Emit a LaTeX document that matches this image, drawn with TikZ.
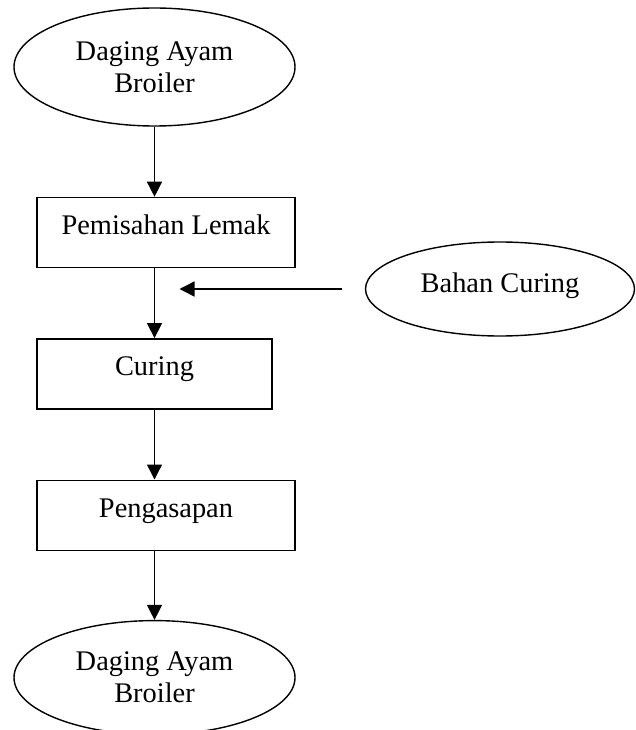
\documentclass[tikz,border=0pt]{standalone}
\usepackage{fontspec}
\setmainfont{Liberation Serif}
\usetikzlibrary{arrows.meta, positioning, calc, shapes.geometric}

\begin{document}
\begin{tikzpicture}[
  x=1pt, y=1pt,
  font=\fontsize{28.4pt}{32pt}\selectfont,
  process/.style = {draw, line width=1.4pt, minimum height=70pt, minimum width=258pt,
                    text height=19.4pt, text depth=15.4pt, inner sep=0pt, align=center},
  terminal/.style = {draw, ellipse, line width=1.4pt, minimum width=281pt, minimum height=116pt,
                     inner sep=0pt, align=center},
  arrow/.style = {line width=1.4pt, -{Triangle[length=15pt, width=15pt]}},
  node distance=70pt
]
  \useasboundingbox (0,0) rectangle (635,-730);

  % Raw material
  \node[terminal, minimum height=118pt] (top) at (154.5,-67) {Daging Ayam\\Broiler};

  % Process steps
  \node[process, below=of top, xshift=11.5pt] (pemisahan) {Pemisahan Lemak};
  \node[process, below=of pemisahan, xshift=-11.5pt, minimum width=235pt] (curing) {Curing};
  \node[process, below=of curing, xshift=11.5pt] (pengasapan) {Pengasapan};

  % Product
  \node[terminal, minimum height=114pt, below=69pt of pengasapan, xshift=-11.5pt] (product) {Daging Ayam\\Broiler};

  % Curing agent
  \node[terminal, minimum width=269pt, minimum height=94pt, text height=19.4pt, text depth=12pt] (bahan) at (500,-289) {Bahan Curing};

  % Main flow
  \draw[arrow] (top.south) -- (top.south |- pemisahan.north);
  \draw[arrow] (top.south |- pemisahan.south) -- (curing.north);
  \draw[arrow] (curing.south) -- (curing.south |- pengasapan.north);
  \draw[arrow] (curing.south |- pengasapan.south) -- (product.north);

  % Curing agent input
  \coordinate (inlet) at ($(bahan.west)+(-23,0)$);
  \coordinate (junction) at ($(bahan.west -| curing.north)+(25,0)$);
  \draw[arrow] (inlet) -- (junction);

\end{tikzpicture}
\end{document}
